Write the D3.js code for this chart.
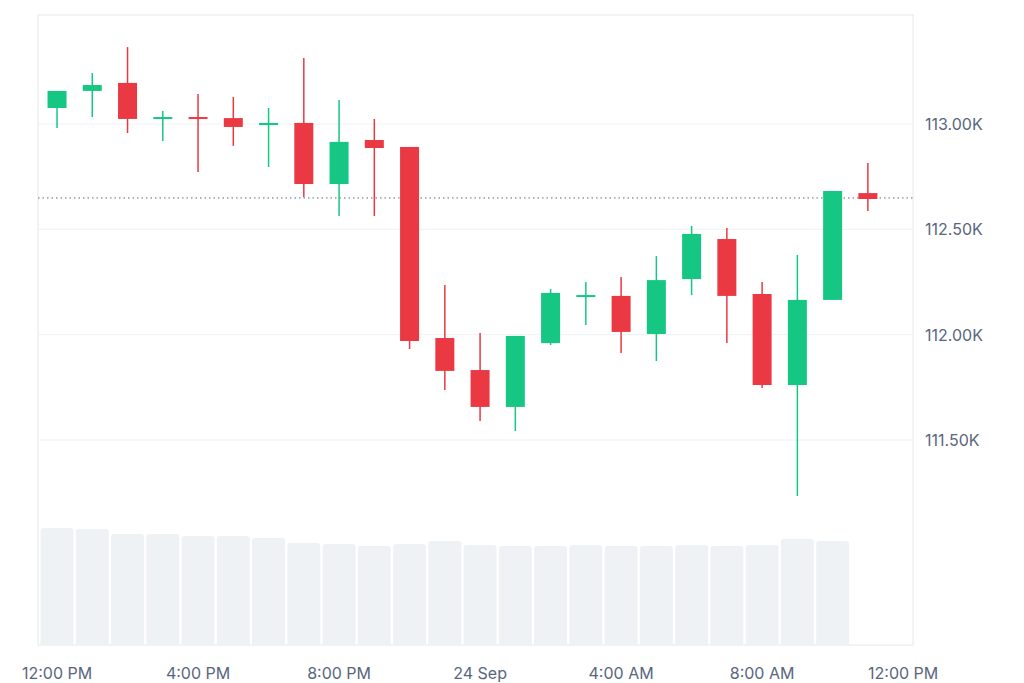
<!DOCTYPE html>
<html>
<head>
<meta charset="utf-8">
<script src="https://cdn.jsdelivr.net/npm/d3@7"></script>
<style>
body { margin: 0; background: #fff; }
text { font-family: Inter, "Noto Sans", sans-serif; }
</style>
</head>
<body>
<svg id="chart"></svg>
<script>
const width = 1024, height = 683;
const svg = d3.select("#chart").attr("width", width).attr("height", height);

// hourly candles, hour 0 = 23 Sep 12:00 PM
const opens  = [113076,113157,113195,113024,113033,113028,112995,113005,112715,112924,112891,111984,111832,111657,111960,112184,112184,112003,112264,112454,112193,111761,112165,112672];
const closes = [113157,113185,113024,113033,113024,112986,113005,112715,112915,112886,111970,111828,111657,111994,112198,112188,112013,112259,112478,112184,111761,112165,112682,112644];
const highs  = [113157,113242,113365,113062,113142,113128,113076,113313,113114,113024,112891,112236,112008,111994,112217,112250,112274,112373,112516,112506,112250,112378,112682,112815];
const lows   = [112981,113033,112957,112919,112772,112896,112796,112653,112563,112563,111932,111737,111590,111543,111951,112046,111913,111875,112188,111960,111747,111234,112165,112587];
const volumes = [117,116,111,111,109,109,107,102,101,99,101,104,100,99,99,100,99,99,100,99,100,106,104];
const priceTicks = [111500, 112000, 112500, 113000];
const timeTicks = [0, 4, 8, 12, 16, 20, 24];
const timeLabels = ["12:00 PM", "4:00 PM", "8:00 PM", "24 Sep", "4:00 AM", "8:00 AM", "12:00 PM"];
const lastPrice = 112649;

const plotL = 38, plotR = 913, plotT = 15, plotB = 645;
const x = d3.scaleLinear().domain([-0.54, 24.28]).range([plotL, plotR]);
const y = d3.scaleLinear().domain([111500, 113000]).range([440, 124]);
const vy = d3.scaleLinear().domain([0, 117]).range([plotB, 528]);

const green = "#16c784", red = "#ea3943";

// frame
svg.append("rect").attr("x", plotL).attr("y", plotT).attr("width", plotR - plotL).attr("height", plotB - plotT)
  .attr("fill", "none").attr("stroke", "#e6e8ec");

// grid + labels
svg.selectAll(".grid").data(priceTicks).enter().append("line")
  .attr("x1", plotL).attr("x2", plotR).attr("y1", d => y(d)).attr("y2", d => y(d))
  .attr("stroke", "#eff2f5");
svg.selectAll(".plabel").data(priceTicks).enter().append("text")
  .attr("x", 925).attr("y", d => y(d) + 6).attr("font-size", 16).attr("fill", "#58667e")
  .text(d => d3.format(".2f")(d / 1000) + "K");

// volume
const bw = 33;
svg.selectAll(".vol").data(volumes).enter().append("path")
  .attr("fill", "#eff2f5")
  .attr("d", (d, i) => {
    const x0 = x(i) - bw / 2, y0 = vy(d), r = 3;
    return `M${x0},${plotB}V${y0 + r}Q${x0},${y0} ${x0 + r},${y0}H${x0 + bw - r}Q${x0 + bw},${y0} ${x0 + bw},${y0 + r}V${plotB}Z`;
  });

// last price line
svg.append("line").attr("x1", plotL).attr("x2", plotR).attr("y1", y(lastPrice)).attr("y2", y(lastPrice))
  .attr("stroke", "#58667e").attr("stroke-dasharray", "1.5,3").attr("stroke-width", 1);

// candles
const idx = d3.range(opens.length);
const col = i => closes[i] >= opens[i] ? green : red;
svg.selectAll(".wick").data(idx).enter().append("line")
  .attr("x1", i => x(i)).attr("x2", i => x(i))
  .attr("y1", i => y(highs[i])).attr("y2", i => y(lows[i]))
  .attr("stroke", col).attr("stroke-width", 1.5);
const cw = 19;
svg.selectAll(".body").data(idx).enter().append("rect")
  .attr("x", i => x(i) - cw / 2).attr("width", cw)
  .attr("y", i => y(Math.max(opens[i], closes[i])))
  .attr("height", i => Math.max(2, Math.abs(y(opens[i]) - y(closes[i]))))
  .attr("fill", col);

// x labels
svg.selectAll(".tlabel").data(timeTicks).enter().append("text")
  .attr("x", d => x(d)).attr("y", 679).attr("text-anchor", "middle")
  .attr("font-size", 16).attr("fill", "#58667e")
  .text((d, i) => timeLabels[i]);
</script>
</body>
</html>
